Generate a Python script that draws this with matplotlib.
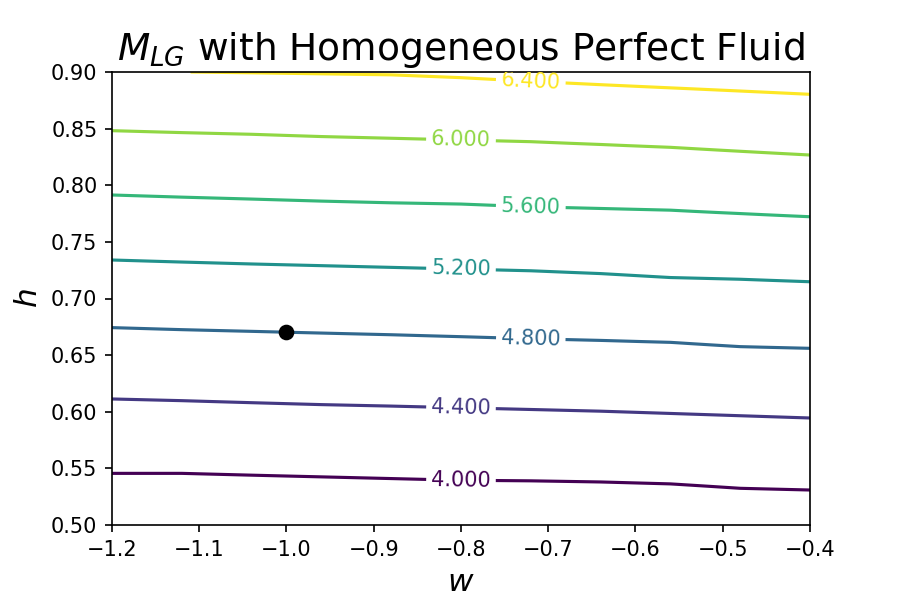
import numpy as np
import matplotlib
matplotlib.use("Agg")
import matplotlib.pyplot as plt

# w grid columns
w_cols = [-1.2, -1.12, -1.04, -0.96, -0.88, -0.8, -0.72, -0.64, -0.56, -0.48, -0.4]
levels = [4.0, 4.4, 4.8, 5.2, 5.6, 6.0, 6.4]
# h position of each contour level at each w column
h_4_0 = [0.5456, 0.5456, 0.5440, 0.5425, 0.5410, 0.5395, 0.5390, 0.5380, 0.5363, 0.5324, 0.5309]
h_4_4 = [0.6113, 0.6098, 0.6080, 0.6063, 0.6050, 0.6035, 0.6020, 0.6005, 0.5985, 0.5965, 0.5945]
h_4_8 = [0.6743, 0.6725, 0.6710, 0.6695, 0.6680, 0.6663, 0.6645, 0.6630, 0.6613, 0.6575, 0.6560]
h_5_2 = [0.7340, 0.7322, 0.7305, 0.7290, 0.7275, 0.7260, 0.7245, 0.7220, 0.7185, 0.7170, 0.7148]
h_5_6 = [0.7914, 0.7895, 0.7878, 0.7860, 0.7845, 0.7834, 0.7810, 0.7795, 0.7780, 0.7750, 0.7722]
h_6_0 = [0.8482, 0.8465, 0.8450, 0.8430, 0.8415, 0.8400, 0.8385, 0.8360, 0.8335, 0.8300, 0.8267]
h_6_4 = [0.9006, 0.9001, 0.8993, 0.8984, 0.8975, 0.8950, 0.8918, 0.8888, 0.8860, 0.8832, 0.8803]
h_by_level = [h_4_0, h_4_4, h_4_8, h_5_2, h_5_6, h_6_0, h_6_4]

# fiducial point
point_w = [-1.0]
point_h = [0.67]

label_w = [-0.8, -0.8, -0.72, -0.8, -0.72, -0.8, -0.72]

# Build the value grid column by column from the level positions
H = np.array(h_by_level)  # (nlev, ncol)
L = np.array(levels)
h_grid = np.linspace(0.5, 0.9, 401)
Z = np.zeros((len(h_grid), len(w_cols)))
for j in range(len(w_cols)):
    hh = H[:, j]
    h_ext = np.concatenate([[hh[0] - (hh[1] - hh[0])], hh, [hh[-1] + (hh[-1] - hh[-2])]])
    l_ext = np.concatenate([[L[0] - (L[1] - L[0])], L, [L[-1] + (L[-1] - L[-2])]])
    Z[:, j] = np.interp(h_grid, h_ext, l_ext)

fig, ax = plt.subplots(figsize=(6, 4), dpi=150)
fig.subplots_adjust(left=0.1244, right=0.9, top=0.88, bottom=0.125)
W, Hg = np.meshgrid(w_cols, h_grid)
cs = ax.contour(W, Hg, Z, levels=levels, cmap="viridis")

manual = []
for k, lw in enumerate(label_w):
    j = w_cols.index(lw)
    manual.append((lw, h_by_level[k][j]))
ax.clabel(cs, inline=True, fmt="%.3f", fontsize=10, manual=manual)

ax.plot(point_w, point_h, "o", color="black", markersize=6.5)

ax.set_xlim(-1.2, -0.4)
ax.set_ylim(0.5, 0.9)
ax.set_xticks(np.arange(-1.2, -0.35, 0.1))
ax.set_yticks(np.arange(0.5, 0.91, 0.05))
ax.set_title(r"$M_{LG}$ with Homogeneous Perfect Fluid", fontsize=18)
ax.set_xlabel(r"$w$", fontsize=15)
ax.set_ylabel(r"$h$", fontsize=15)

fig.savefig("out.png", dpi=150)
